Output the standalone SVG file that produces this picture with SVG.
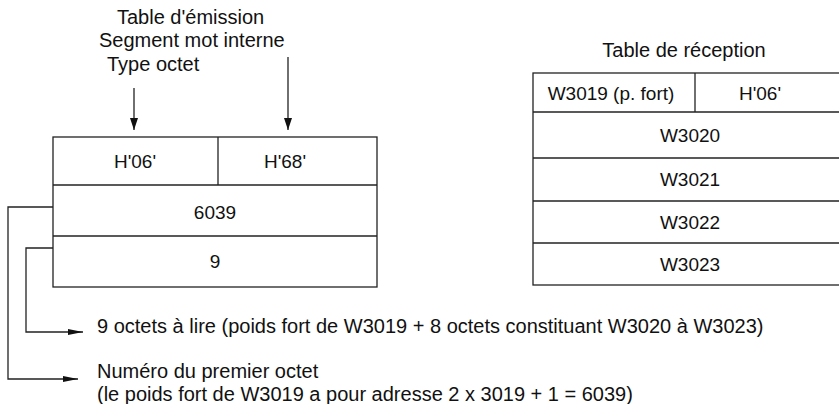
<svg xmlns="http://www.w3.org/2000/svg" width="839" height="404" viewBox="0 0 839 404">
<style>
text{font-family:"Liberation Sans",Arial,sans-serif;font-size:20px;fill:#111}
.t text{font-size:19px}
.c{text-anchor:middle}
.b{fill:#fff;stroke:#222;stroke-width:1.3}
.l{fill:none;stroke:#222;stroke-width:1.3}
</style>
<defs>
<marker id="ah" markerUnits="userSpaceOnUse" markerWidth="16" markerHeight="8" refX="15" refY="4" orient="auto" viewBox="0 0 16 8">
<path d="M0,1 L15,4 L0,7 z" fill="#111"/>
</marker>
<marker id="ad" markerUnits="userSpaceOnUse" markerWidth="14" markerHeight="10" refX="12" refY="5" orient="auto" viewBox="0 0 14 10">
<path d="M0,1 L12,5 L0,9 z" fill="#111"/>
</marker>
</defs>
<g id="titre-emission">
<text x="117" y="24">Table d'émission</text>
<text x="99" y="47">Segment mot interne</text>
<text x="107" y="71">Type octet</text>
</g>
<g id="table-emission" class="t">
<rect class="b" x="53" y="137" width="324" height="150"/>
<line class="l" x1="218" y1="137" x2="218" y2="185"/>
<line class="l" x1="53" y1="185" x2="377" y2="185"/>
<line class="l" x1="53" y1="236" x2="377" y2="236"/>
<text class="c" x="135" y="168">H'06'</text>
<text class="c" x="285" y="168">H'68'</text>
<text class="c" x="215" y="219">6039</text>
<text class="c" x="215" y="268">9</text>
</g>
<g id="titre-reception">
<text class="c" x="684" y="57">Table de réception</text>
</g>
<g id="table-reception" class="t">
<rect class="b" x="533" y="73" width="320" height="212"/>
<line class="l" x1="695" y1="73" x2="695" y2="112"/>
<line class="l" x1="533" y1="112" x2="853" y2="112"/>
<line class="l" x1="533" y1="158" x2="853" y2="158"/>
<line class="l" x1="533" y1="201" x2="853" y2="201"/>
<line class="l" x1="533" y1="243" x2="853" y2="243"/>
<text class="c" x="611" y="100">W3019 (p. fort)</text>
<text class="c" x="760" y="100">H'06'</text>
<text class="c" x="690" y="142">W3020</text>
<text class="c" x="690" y="186">W3021</text>
<text class="c" x="690" y="229">W3022</text>
<text class="c" x="690" y="271">W3023</text>
</g>
<g id="notes">
<text x="97" y="333">9 octets à lire (poids fort de W3019 + 8 octets constituant W3020 à W3023)</text>
<text x="97" y="378">Numéro du premier octet</text>
<text x="97" y="401">(le poids fort de W3019 a pour adresse 2 x 3019 + 1 = 6039)</text>
</g>
<g id="connecteurs">
<line class="l" x1="134" y1="88" x2="134" y2="130" marker-end="url(#ad)"/>
<line class="l" x1="288" y1="57" x2="288" y2="130" marker-end="url(#ad)"/>
<polyline class="l" points="53,248 26,248 26,332 83,332" marker-end="url(#ah)"/>
<polyline class="l" points="53,207 8,207 8,379 78,379" marker-end="url(#ah)"/>
</g>
</svg>
